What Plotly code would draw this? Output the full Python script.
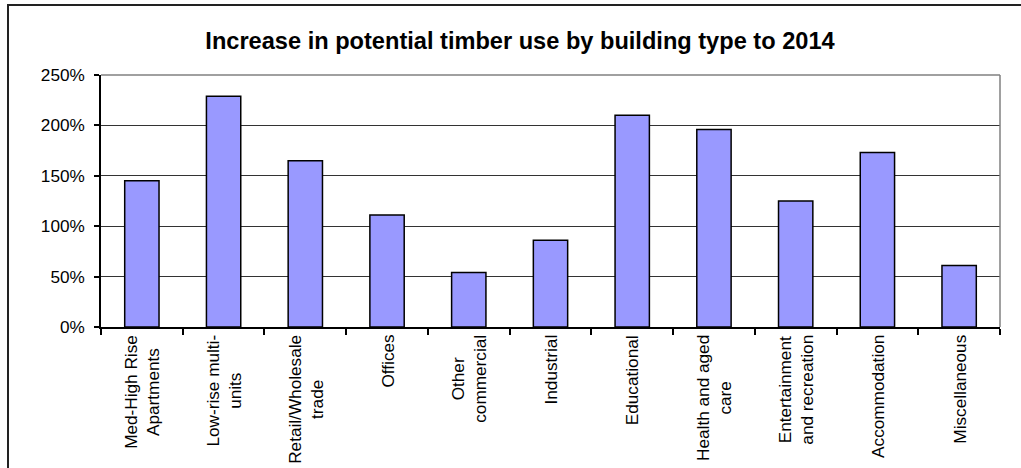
import plotly.graph_objects as go

categories = [
    "Med-High Rise Apartments", "Low-rise multi-units", "Retail/Wholesale trade",
    "Offices", "Other commercial", "Industrial", "Educational",
    "Health and aged care", "Entertainment and recreation", "Accommodation",
    "Miscellaneous",
]
tick_labels = [
    "Med-High Rise<br>Apartments", "Low-rise multi-<br>units", "Retail/Wholesale<br>trade",
    "Offices", "Other<br>commercial", "Industrial", "Educational",
    "Health and aged<br>care", "Entertainment<br>and recreation", "Accommodation",
    "Miscellaneous",
]
increase_pct = [145, 229, 165, 111, 54, 86, 210, 196, 125, 173, 61]
y_ticks = [0, 50, 100, 150, 200, 250]
y_tick_labels = ["0%", "50%", "100%", "150%", "200%", "250%"]

FONT = "Liberation Sans, Arial, sans-serif"
W, H = 1021, 468
L, R, T, B = 101, 1000, 75, 327

fig = go.Figure()
fig.add_trace(go.Bar(
    x=categories, y=increase_pct,
    marker=dict(color="#9999FF", line=dict(color="black", width=1.5)),
    hoverinfo="x+y",
))

annotations = []
for cat, lab in zip(categories, tick_labels):
    annotations.append(dict(
        x=cat, xref="x", y=0, yref="paper", yanchor="top", xanchor="center",
        yshift=-6, text=lab, textangle=-90, showarrow=False, align="center",
        font=dict(family=FONT, size=17.2, color="black"),
    ))

def px_x(p):
    return (p - L) / (R - L)

def px_y(p):
    return (B - p) / (B - T)

shapes = [
    # outer chart frame
    dict(type="rect", xref="paper", yref="paper",
         x0=px_x(8), x1=px_x(1030), y0=px_y(480), y1=px_y(5),
         line=dict(color="#222222", width=2), layer="below"),
    # plot-area border (top and right)
    dict(type="line", xref="paper", yref="paper", x0=0, x1=1, y0=1, y1=1,
         line=dict(color="#808080", width=1.5), layer="above"),
    dict(type="line", xref="paper", yref="paper", x0=1, x1=1, y0=0, y1=1,
         line=dict(color="#808080", width=1.5), layer="above"),
]

fig.update_layout(
    width=W, height=H,
    margin=dict(l=L, r=W - R, t=T, b=H - B, pad=0),
    paper_bgcolor="white", plot_bgcolor="white",
    bargap=0.58,
    showlegend=False,
    title=dict(
        text="<b>Increase in potential timber use by building type to 2014</b>",
        x=520 / W, xref="container", xanchor="center",
        y=1 - 41 / H, yref="container", yanchor="middle",
        font=dict(family=FONT, size=23.6, color="black"),
    ),
    font=dict(family=FONT, size=17.2, color="black"),
    xaxis=dict(
        type="category", showticklabels=False, showgrid=False,
        showline=True, linecolor="black", linewidth=1.5,
        ticks="outside", ticklen=6, tickcolor="black", tickwidth=1.5,
        tickson="boundaries", zeroline=False,
    ),
    yaxis=dict(
        range=[0, 250], tickmode="array", tickvals=y_ticks, ticktext=y_tick_labels,
        showgrid=True, gridcolor="#333333", gridwidth=1,
        showline=True, linecolor="black", linewidth=1.5,
        ticks="outside", ticklen=5, tickcolor="black", tickwidth=1.5,
        tickfont=dict(family=FONT, size=17.2, color="black"),
        ticklabelstandoff=6,
        zeroline=False, fixedrange=True,
    ),
    annotations=annotations,
    shapes=shapes,
)

fig.write_html("out.html")
